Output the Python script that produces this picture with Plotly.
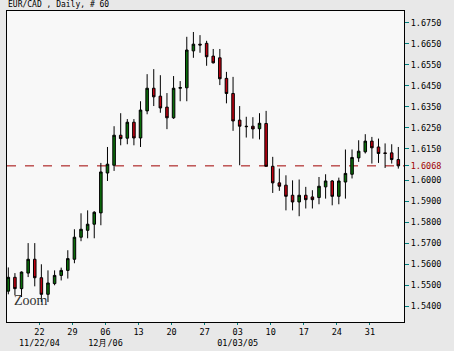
import pandas as pd
import plotly.graph_objects as go

# ---- data ----
dates = [d.strftime("%Y-%m-%d") for d in pd.bdate_range("2004-11-15", "2005-02-04")]

opens = [1.5471, 1.5537, 1.5483, 1.5557, 1.5623, 1.5535, 1.5456, 1.5507, 1.5546, 1.5570,
         1.5623, 1.5728, 1.5761, 1.5790, 1.5844, 1.6034, 1.6071, 1.6214, 1.6200, 1.6276,
         1.6201, 1.6330, 1.6438, 1.6400, 1.6348, 1.6297, 1.6438, 1.6440, 1.6616, 1.6648,
         1.6652, 1.6591, 1.6583, 1.6485, 1.6413, 1.6286, 1.6257, 1.6257, 1.6245, 1.6270,
         1.6066, 1.5987, 1.5976, 1.5928, 1.5896, 1.5928, 1.5920, 1.5917, 1.5968, 1.5996,
         1.5923, 1.5991, 1.6028, 1.6106, 1.6135, 1.6186, 1.6158, 1.6130, 1.6130, 1.6098]
highs = [1.5584, 1.5557, 1.5565, 1.5700, 1.5700, 1.5599, 1.5570, 1.5570, 1.5583, 1.5666,
         1.5766, 1.5842, 1.5856, 1.5852, 1.6082, 1.6158, 1.6257, 1.6319, 1.6291, 1.6291,
         1.6376, 1.6505, 1.6529, 1.6500, 1.6415, 1.6496, 1.6472, 1.6683, 1.6706, 1.6691,
         1.6664, 1.6625, 1.6625, 1.6516, 1.6492, 1.6353, 1.6302, 1.6300, 1.6319, 1.6330,
         1.6111, 1.6055, 1.6023, 1.5999, 1.6003, 1.5968, 1.5952, 1.6015, 1.6028, 1.6000,
         1.6012, 1.6146, 1.6146, 1.6190, 1.6219, 1.6206, 1.6198, 1.6175, 1.6171, 1.6158]
lows = [1.5456, 1.5451, 1.5443, 1.5538, 1.5494, 1.5419, 1.5419, 1.5499, 1.5522, 1.5531,
        1.5604, 1.5709, 1.5723, 1.5723, 1.5785, 1.5996, 1.6044, 1.6166, 1.6171, 1.6166,
        1.6158, 1.6314, 1.6353, 1.6321, 1.6243, 1.6292, 1.6376, 1.6376, 1.6583, 1.6607,
        1.6545, 1.6556, 1.6453, 1.6366, 1.6235, 1.6071, 1.6203, 1.6198, 1.6194, 1.6066,
        1.5939, 1.5949, 1.5856, 1.5856, 1.5828, 1.5865, 1.5865, 1.5885, 1.5912, 1.5880,
        1.5885, 1.5912, 1.6008, 1.6087, 1.6127, 1.6079, 1.6082, 1.6058, 1.6079, 1.6055]
closes = [1.5537, 1.5483, 1.5562, 1.5623, 1.5535, 1.5456, 1.5510, 1.5546, 1.5570, 1.5626,
          1.5728, 1.5766, 1.5790, 1.5847, 1.6039, 1.6076, 1.6214, 1.6198, 1.6276, 1.6201,
          1.6334, 1.6438, 1.6397, 1.6344, 1.6297, 1.6438, 1.6441, 1.6620, 1.6648, 1.6644,
          1.6588, 1.6559, 1.6483, 1.6413, 1.6282, 1.6257, 1.6255, 1.6244, 1.6271, 1.6066,
          1.5987, 1.5971, 1.5923, 1.5896, 1.5928, 1.5907, 1.5907, 1.5971, 1.5996, 1.5923,
          1.5996, 1.6032, 1.6108, 1.6138, 1.6186, 1.6154, 1.6127, 1.6127, 1.6098, 1.6068]

tick_dates = ["2004-11-22", "2004-11-29", "2004-12-06", "2004-12-13", "2004-12-20",
              "2004-12-27", "2005-01-03", "2005-01-10", "2005-01-17", "2005-01-24",
              "2005-01-31"]
tick_labels = ["22<br>11/22/04", "29", "06<br>12月/06", "13", "20", "27",
               "03<br>01/03/05", "10", "17", "24", "31"]
y_ticks = [1.5400, 1.5500, 1.5600, 1.5700, 1.5800, 1.5900, 1.6000,
           1.6150, 1.6250, 1.6350, 1.6450, 1.6550, 1.6650, 1.6750]

title_text = "EUR/CAD , Daily, # 60"

# ---- figure ----
idx = list(range(len(dates)))
x_tickvals = [dates.index(d) - 0.3 for d in tick_dates]
last_close = closes[-1]

UP = "#0a6e0a"
DOWN = "#c00010"
TEAL = "#008080"
MONO = "DejaVu Sans Mono"

fig = go.Figure()
fig.add_trace(go.Candlestick(
    x=idx, open=opens, high=highs, low=lows, close=closes,
    increasing=dict(fillcolor=UP, line=dict(color="black", width=1)),
    decreasing=dict(fillcolor=DOWN, line=dict(color="black", width=1)),
    whiskerwidth=0, showlegend=False, hoverinfo="skip",
))
# invisible trace to carry the second (last price) axis
fig.add_trace(go.Scatter(x=[idx[-1]], y=[last_close], yaxis="y2", mode="markers",
                         marker=dict(opacity=0), showlegend=False, hoverinfo="skip"))

yr = [1.5324, 1.6806]
xr = [-0.2, len(dates) - 1 + 0.86]

fig.update_layout(
    width=454, height=351,
    margin=dict(l=7, r=50, t=11, b=29, autoexpand=False),
    paper_bgcolor="#e8e8e8", plot_bgcolor="#f8f8f8",
    boxgap=0.45,
    showlegend=False,
    xaxis=dict(
        range=xr, rangeslider=dict(visible=False), showgrid=False, zeroline=False,
        tickmode="array", tickvals=x_tickvals, ticktext=tick_labels,
        ticks="outside", ticklen=2, tickcolor=TEAL, tickwidth=1,
        tickfont=dict(family=MONO, size=8.5, color="black"),
        showline=True, linecolor="black", linewidth=1, mirror=True,
    ),
    yaxis=dict(
        range=yr, side="right", showgrid=False, zeroline=False,
        tickmode="array", tickvals=y_ticks, tickformat=".4f",
        ticks="outside", ticklen=4, tickcolor=TEAL, tickwidth=1,
        tickfont=dict(family=MONO, size=8.5, color="black"),
        showline=True, linecolor="black", linewidth=1, mirror=True,
    ),
    yaxis2=dict(
        range=yr, overlaying="y", side="right", anchor="x", showgrid=False,
        zeroline=False, showline=False,
        tickmode="array", tickvals=[last_close], tickformat=".4f",
        ticks="outside", ticklen=4, tickcolor=TEAL, tickwidth=1,
        tickfont=dict(family=MONO, size=8.5, color="#a00000"),
    ),
    shapes=[dict(type="line", xref="paper", x0=0, x1=1, yref="y", y0=last_close,
                 y1=last_close, line=dict(color="#a00000", width=1, dash="dash"),
                 layer="below")],
    annotations=[
        dict(text=title_text, xref="paper", yref="paper", x=0, y=1.0,
             xanchor="left", yanchor="bottom", showarrow=False, xshift=-1, yshift=0,
             font=dict(family=MONO, size=8, color="black")),
        dict(text="Zoom", xref="paper", yref="paper", x=0.012, y=0.04,
             xanchor="left", yanchor="bottom", showarrow=False,
             font=dict(family="Liberation Serif", size=14, color="#333333")),
    ],
)

fig.write_html("out.html", config={"displayModeBar": False})
